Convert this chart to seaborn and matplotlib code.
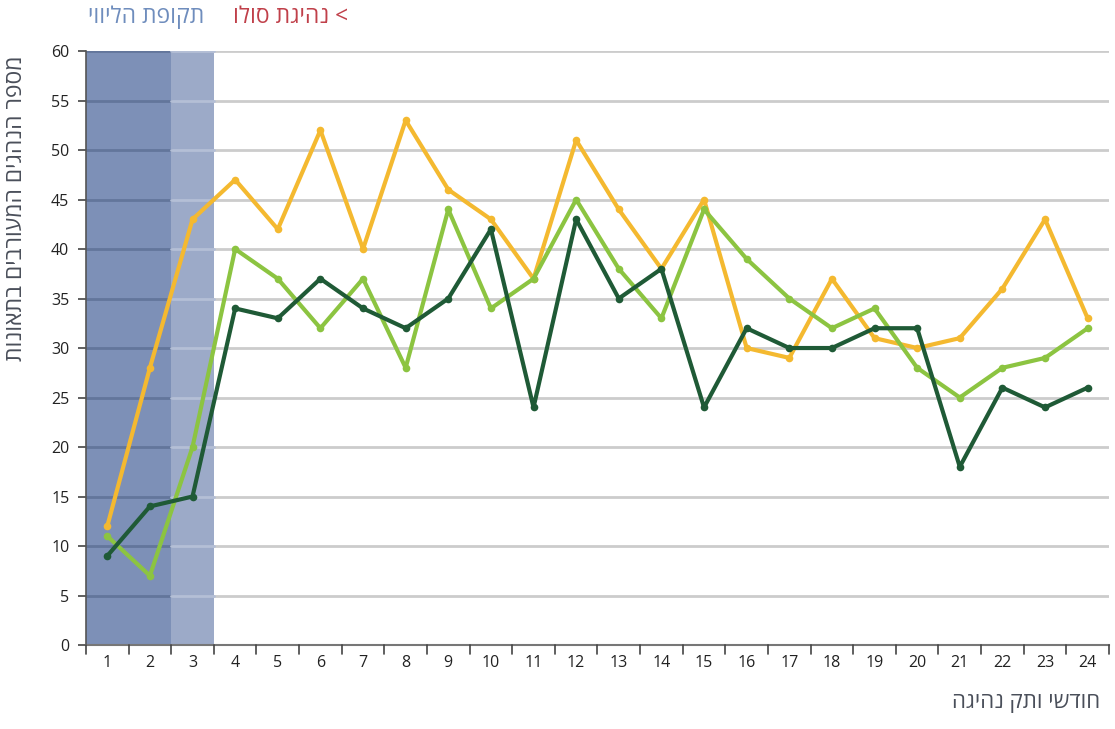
import matplotlib
matplotlib.use("Agg")
import matplotlib.pyplot as plt
import seaborn as sns
import pandas as pd

# Months of driving experience
months = list(range(1, 25))

# Number of drivers involved in accidents, three series
series_yellow = [12, 28, 43, 47, 42, 52, 40, 53, 46, 43, 37, 51,
                 44, 38, 45, 30, 29, 37, 31, 30, 31, 36, 43, 33]
series_light = [11, 7, 20, 40, 37, 32, 37, 28, 44, 34, 37, 45,
                38, 33, 44, 39, 35, 32, 34, 28, 25, 28, 29, 32]
series_dark = [9, 14, 15, 34, 33, 37, 34, 32, 35, 42, 24, 43,
               35, 38, 24, 32, 30, 30, 32, 32, 18, 26, 24, 26]

y_ticks = list(range(0, 61, 5))

title_escort = "תקופת הליווי"
title_solo = "נהיגת סולו"
y_label = "מספר הנהגים המעורבים בתאונות"
x_label = "חודשי ותק נהיגה"


def visual(s):
    """Hebrew runs are drawn left to right, so flip them for display."""
    return s[::-1]


df = pd.DataFrame({
    "month": months * 3,
    "value": series_yellow + series_light + series_dark,
    "series": ["a"] * 24 + ["b"] * 24 + ["c"] * 24,
})
palette = {"a": "#f4b930", "b": "#8cc441", "c": "#1f5a36"}

sns.set_theme(style="white")
plt.rcParams["font.family"] = ["Open Sans", "DejaVu Sans"]

fig = plt.figure(figsize=(11.15, 7.29), dpi=100)
ax = fig.add_axes([0.0771, 0.1152, 0.9175, 0.8148])

ax.set_xlim(0.5, 24.5)
ax.set_ylim(0, 60)

# Escort period shading
ax.axvspan(0.5, 2.5, color="#7d90b7", zorder=0.5, lw=0)
ax.axvspan(2.5, 3.5, color="#9caac8", zorder=0.5, lw=0)

# Horizontal gridlines, tinted inside the shaded band
for yv in y_ticks[1:]:
    ax.plot([3.5, 24.5], [yv, yv], color="#cccccc", lw=2, zorder=1)
    ax.plot([0.5, 2.5], [yv, yv], color="#63769b", lw=2, zorder=1)
    ax.plot([2.5, 3.5], [yv, yv], color="#b4bfd6", lw=2, zorder=1)

sns.lineplot(data=df, x="month", y="value", hue="series", palette=palette,
             linewidth=3.0, marker="o", markersize=5.5, markeredgewidth=0,
             legend=False, ax=ax, zorder=3)

ax.set_xticks([m for m in months])
ax.set_xticklabels([str(m) for m in months], fontsize=11.5, color="#222222")
ax.set_yticks(y_ticks)
ax.set_yticklabels([str(v) for v in y_ticks], fontsize=11.5, color="#222222")
ax.tick_params(axis="x", length=0, pad=7)
ax.tick_params(axis="y", length=6, width=1.2, color="#444444", pad=6,
               left=True, direction="out")

# Category boundary ticks on the x axis
for b in [m + 0.5 for m in [0] + months]:
    ax.plot([b, b], [0, -0.9], color="#444444", lw=1.2, clip_on=False,
            zorder=4)

for side in ["top", "right"]:
    ax.spines[side].set_visible(False)
ax.spines["left"].set_color("#555555")
ax.spines["left"].set_linewidth(1.2)
ax.spines["bottom"].set_color("#777777")
ax.spines["bottom"].set_linewidth(1.5)
ax.set_xlabel("")
ax.set_ylabel("")

# Titles above the plot
fig.text(0.0790, 0.976, visual(title_escort), color="#6f8dbd", fontsize=16.5,
         ha="left", va="center")
fig.text(0.312, 0.976, visual(title_solo) + " <", color="#c0404a",
         fontsize=16.5, ha="right", va="center")

fig.text(0.014, 0.715, visual(y_label), rotation=90, color="#4a4f5a",
         fontsize=16.5, ha="center", va="center")
fig.text(0.987, 0.022, visual(x_label), color="#4a4f5a", fontsize=16,
         ha="right", va="bottom")

fig.savefig("out.png", dpi=100, facecolor="white")
